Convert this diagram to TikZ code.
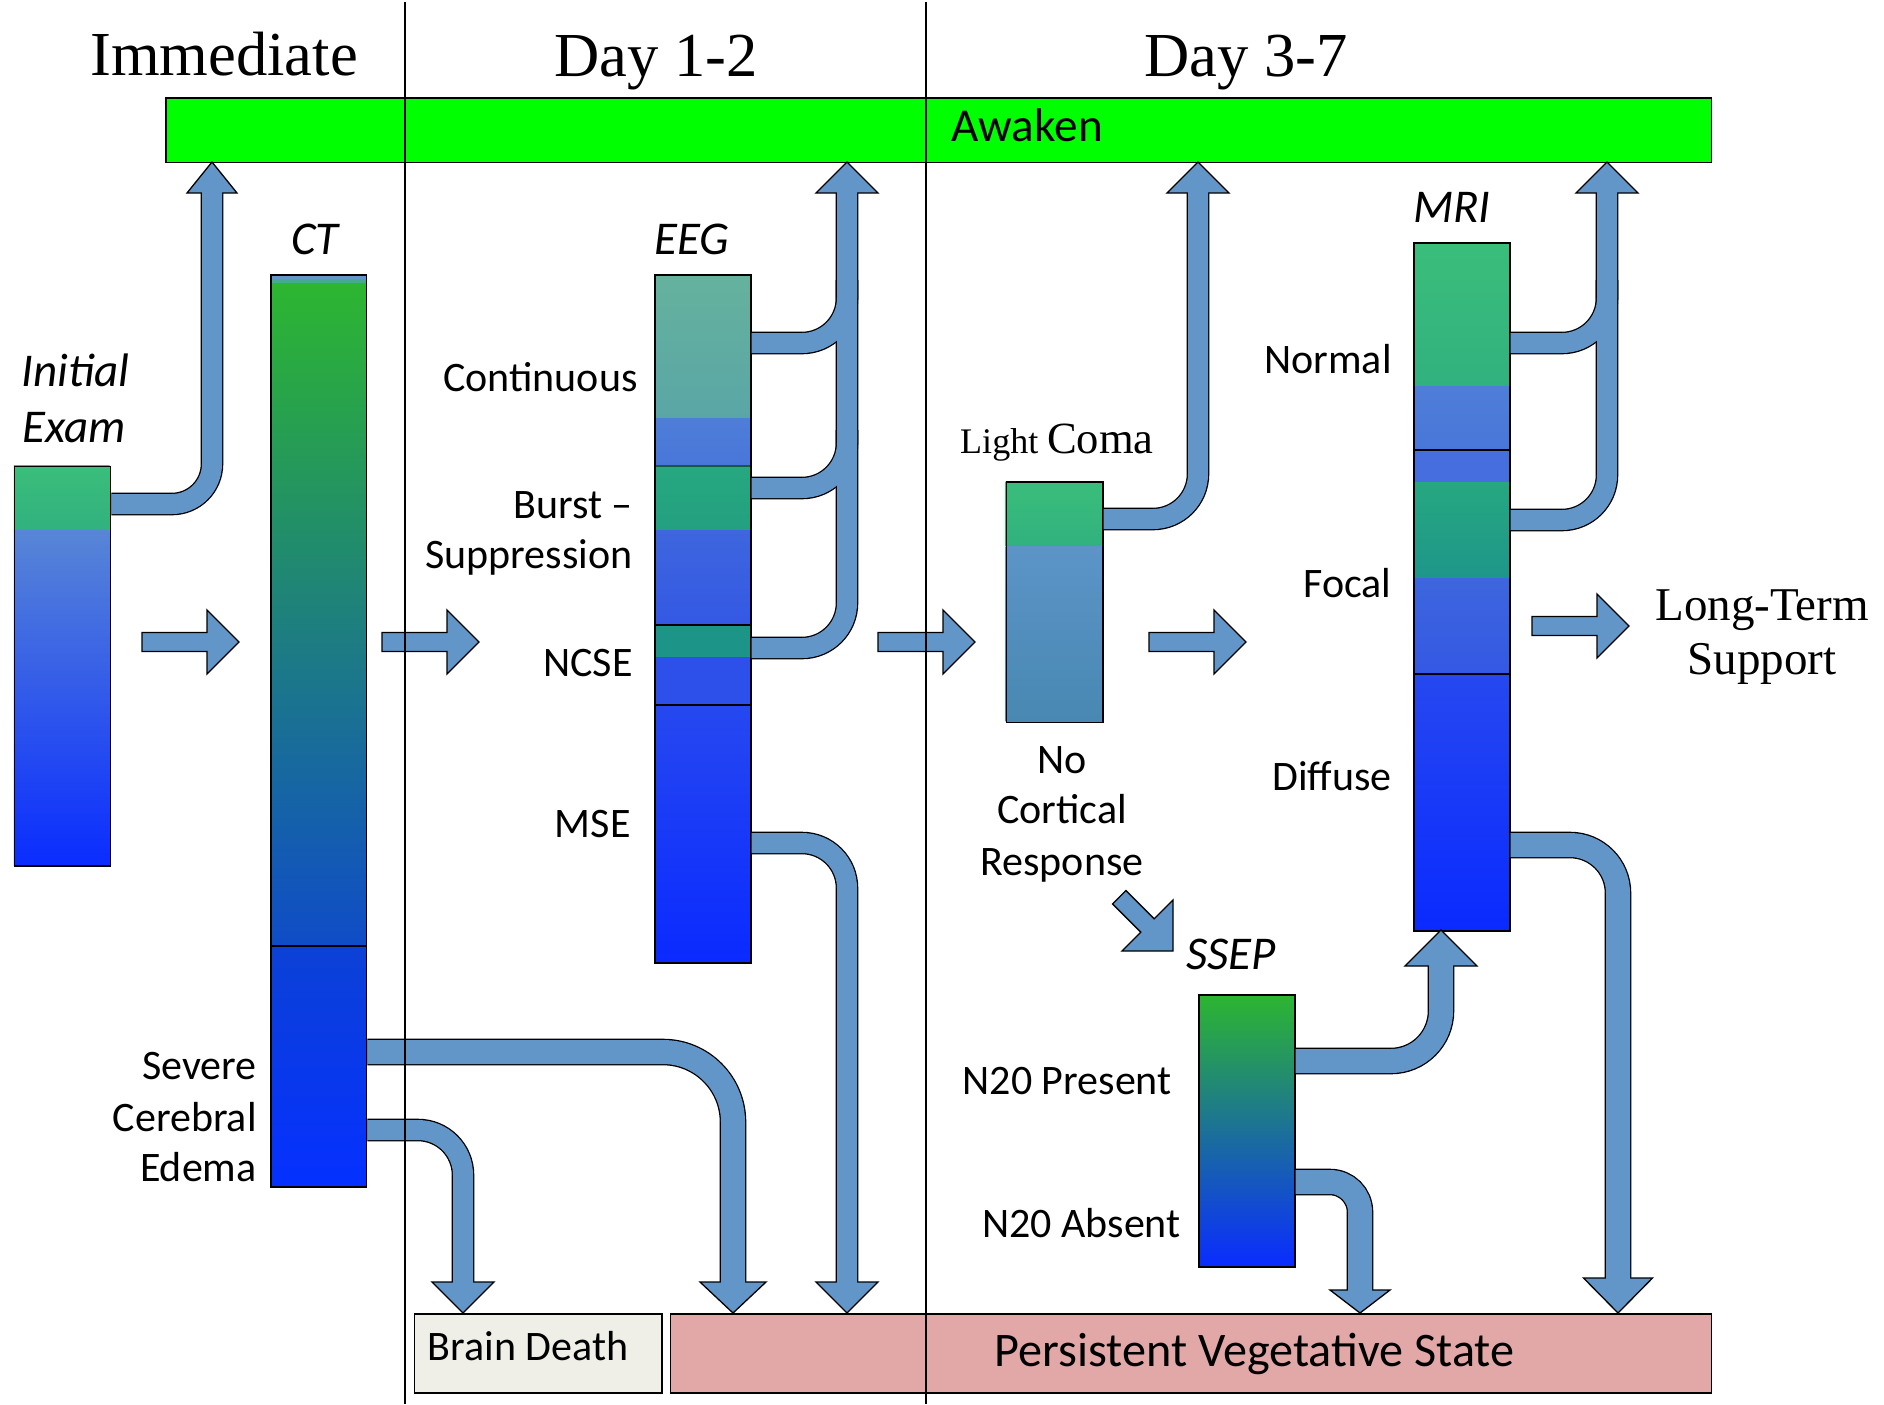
\documentclass[tikz,border=0pt]{standalone}
\usepackage{fontspec}
\setmainfont{Carlito}
\newfontfamily\tnr{Liberation Serif}
\newcommand\fsz[1]{\fontsize{#1}{#1}\selectfont}
\usetikzlibrary{calc}
\definecolor{abl}{RGB}{98,150,201}
\definecolor{awk}{RGB}{0,255,0}
\definecolor{bdeath}{RGB}{239,239,231}
\definecolor{pvsc}{RGB}{226,168,168}
\definecolor{gA}{RGB}{58,190,122}
\definecolor{gB}{RGB}{49,177,127}
\definecolor{bluetop}{RGB}{88,134,214}
\definecolor{bluebot}{RGB}{10,44,255}
\definecolor{ctg}{RGB}{45,182,48}
\definecolor{ctm}{RGB}{28,138,115}
\definecolor{ctb}{RGB}{15,76,200}
\definecolor{ctt}{RGB}{70,170,140}
\definecolor{ct2a}{RGB}{12,65,214}
\definecolor{ct2b}{RGB}{5,48,255}
\definecolor{eA}{RGB}{101,178,158}
\definecolor{eB}{RGB}{90,166,166}
\definecolor{eC}{RGB}{78,126,216}
\definecolor{eD}{RGB}{72,118,218}
\definecolor{eE}{RGB}{38,168,128}
\definecolor{eF}{RGB}{36,160,128}
\definecolor{eG}{RGB}{62,102,222}
\definecolor{eH}{RGB}{52,88,228}
\definecolor{eI}{RGB}{28,148,136}
\definecolor{eJ}{RGB}{46,80,234}
\definecolor{eK}{RGB}{38,72,240}
\definecolor{eL}{RGB}{10,42,255}
\definecolor{mC}{RGB}{70,110,222}
\definecolor{mT}{RGB}{30,150,138}
\definecolor{lcA}{RGB}{92,148,200}
\definecolor{lcB}{RGB}{72,136,178}
\definecolor{sM}{RGB}{24,128,140}
\definecolor{dkg}{RGB}{20,90,60}
\newcommand{\fatright}[2]{\filldraw[ahead] ({#1},{#2-9.5}) -- ({#1+65},{#2-9.5}) -- ({#1+65},{#2-32}) -- ({#1+97},{#2}) -- ({#1+65},{#2+32}) -- ({#1+65},{#2+9.5}) -- ({#1},{#2+9.5}) -- cycle;}
\begin{document}
\begin{tikzpicture}[x=0.5pt,y=-0.5pt,
  box/.style={draw=black,line width=0.8pt,inner sep=0pt,anchor=north west},
  segline/.style={line width=0.6pt},
  txt/.style={inner sep=0pt,font=\fsz{21}},
  itl/.style={inner sep=0pt,font=\fsz{23.5}\itshape},
  hdr/.style={inner sep=0pt,font=\tnr\fsz{31.3}},
  sout/.style={draw=black,line width=11.3pt},
  sfill/.style={draw=abl,line width=10pt},
  bout/.style={draw=black,line width=13.3pt},
  bfill/.style={draw=abl,line width=12pt},
  ahead/.style={fill=abl,draw=black,line width=0.65pt,line join=miter},
]
\useasboundingbox (0,0) rectangle (1884,1404);
\fill[white] (0,0) rectangle (1884,1404);

% ---------- bar fills
% Initial exam
\shade[top color=gA,bottom color=gB] (13.8,465.6) rectangle (109.7,530);
\shade[top color=bluetop,bottom color=bluebot] (13.8,530) rectangle (109.7,865.2);
% CT
\shade[top color=ctg,middle color=ctm,bottom color=ctb] (270.4,282) rectangle (365.7,946);
\fill[abl] (270.4,274) rectangle (365.7,279);
\fill[ctt] (270.4,279) rectangle (365.7,283);
\shade[top color=ct2a,bottom color=ct2b] (270.4,946) rectangle (365.7,1186);
\draw[segline] (270.4,946) -- (365.7,946);
% EEG
\shade[top color=eA,bottom color=eB] (654,274) rectangle (750,418);
\shade[top color=eC,bottom color=eD] (654,418) rectangle (750,466);
\shade[top color=eE,bottom color=eF] (654,466) rectangle (750,530);
\shade[top color=eG,bottom color=eH] (654,530) rectangle (750,625);
\fill[eI] (654,625) rectangle (750,657);
\fill[eJ] (654,657) rectangle (750,705);
\shade[top color=eK,bottom color=eL] (654,705) rectangle (750,962);
\draw[segline,dkg] (654,466) -- (750,466);
\draw[segline] (654,625) -- (750,625);
\draw[segline] (654,705) -- (750,705);
% Light coma
\shade[top color=gA,bottom color=gB] (1005.5,481.3) rectangle (1102,546);
\shade[top color=lcA,bottom color=lcB] (1005.5,546) rectangle (1102,721.5);
% MRI
\shade[top color=gA,bottom color=gB] (1413,242) rectangle (1509,386);
\shade[top color=eC,bottom color=eD] (1413,386) rectangle (1509,450);
\fill[mC] (1413,450) rectangle (1509,482);
\shade[top color=eE,bottom color=mT] (1413,482) rectangle (1509,578);
\shade[top color=eG,bottom color=eH] (1413,578) rectangle (1509,674);
\shade[top color=eK,bottom color=eL] (1413,674) rectangle (1509,930);
\draw[segline] (1413,450) -- (1509,450);
\draw[segline] (1413,674) -- (1509,674);
% SSEP
\shade[top color=ctg,middle color=sM,bottom color=bluebot] (1198,994) rectangle (1294,1266);

% ---------- box nodes
\node[box,fill=awk,minimum width=772.8pt,minimum height=32.15pt] (awaken) at (165,97.3) {};
\node[box,minimum width=48pt,minimum height=199.8pt] (exam) at (13.8,465.6) {};
\node[box,minimum width=47.65pt,minimum height=456pt] (ct) at (270.4,274) {};
\node[box,minimum width=48pt,minimum height=344pt] (eeg) at (654,274) {};
\node[box,minimum width=48.25pt,minimum height=120.1pt] (coma) at (1005.5,481.3) {};
\node[box,minimum width=48pt,minimum height=344pt] (mri) at (1413,242) {};
\node[box,minimum width=48pt,minimum height=136pt] (ssep) at (1198,994) {};
\node[box,fill=bdeath,minimum width=123.8pt,minimum height=39.5pt] (bdeath) at (413.7,1313) {};
\node[box,fill=pvsc,minimum width=520.45pt,minimum height=39.5pt] (pvs) at (669.7,1313) {};

% ---------- connector outlines
\draw[sout,rounded corners=20pt] (exam.east |- 0,504) -- (212,504) -- (212,192);
\draw[sout,rounded corners=22.5pt] (eeg.east |- 0,343) -- (847,343) -- (847,280);
\draw[sout,rounded corners=22.5pt] (eeg.east |- 0,488) -- (847,488) -- (847,430);
\draw[sout,rounded corners=22.5pt] (eeg.east |- 0,648) -- (847,648) -- (847,192);
\draw[sout,rounded corners=22.5pt] (coma.east |- 0,519) -- (1198,519) -- (1198,192);
\draw[sout,rounded corners=22.5pt] (mri.east |- 0,343) -- (1607,343) -- (1607,280);
\draw[sout,rounded corners=22.5pt] (mri.east |- 0,520) -- (1607,520) -- (1607,192);
\draw[sout,rounded corners=22.5pt] (ct.east |- 0,1130) -- (463,1130) -- (463,1283);
\draw[bout,rounded corners=35pt] (ct.east |- 0,1052) -- (733,1052) -- (733,1283);
\draw[sout,rounded corners=22.5pt] (eeg.east |- 0,843) -- (847,843) -- (847,1283);
\draw[bout,rounded corners=25pt] (ssep.east |- 0,1061) -- (1441,1061) -- (1441,965);
\draw[bout,rounded corners=15pt] (ssep.east |- 0,1182) -- (1360,1182) -- (1360,1291);
\draw[bout,rounded corners=24pt] (mri.east |- 0,845) -- (1618,845) -- (1618,1279);

% ---------- heads
\filldraw[ahead] (212,162) -- (237,193) -- (187,193) -- cycle;
\filldraw[ahead] (847,162) -- (878,193) -- (816,193) -- cycle;
\filldraw[ahead] (1198,162) -- (1229,193) -- (1167,193) -- cycle;
\filldraw[ahead] (1607,162) -- (1638,193) -- (1576,193) -- cycle;
\filldraw[ahead] (463,1313) -- (494,1282) -- (432,1282) -- cycle;
\filldraw[ahead] (733,1313) -- (766,1282) -- (700,1282) -- cycle;
\filldraw[ahead] (847,1313) -- (878,1282) -- (816,1282) -- cycle;
\filldraw[ahead] (1360,1313) -- (1390,1290) -- (1330,1290) -- cycle;
\filldraw[ahead] (1618,1313) -- (1652.5,1278) -- (1583.5,1278) -- cycle;
\filldraw[ahead] (1441,930) -- (1477,966) -- (1405,966) -- cycle;

% ---------- connector fills
\draw[sfill,rounded corners=20pt] (exam.east |- 0,504) -- (212,504) -- (212,190);
\draw[sfill,rounded corners=22.5pt] (eeg.east |- 0,343) -- (847,343) -- (847,280);
\draw[sfill,rounded corners=22.5pt] (eeg.east |- 0,488) -- (847,488) -- (847,430);
\draw[sfill,rounded corners=22.5pt] (eeg.east |- 0,648) -- (847,648) -- (847,190);
\draw[sfill,rounded corners=22.5pt] (coma.east |- 0,519) -- (1198,519) -- (1198,190);
\draw[sfill,rounded corners=22.5pt] (mri.east |- 0,343) -- (1607,343) -- (1607,280);
\draw[sfill,rounded corners=22.5pt] (mri.east |- 0,520) -- (1607,520) -- (1607,190);
\draw[sfill,rounded corners=22.5pt] (ct.east |- 0,1130) -- (463,1130) -- (463,1285);
\draw[bfill,rounded corners=35pt] (ct.east |- 0,1052) -- (733,1052) -- (733,1285);
\draw[sfill,rounded corners=22.5pt] (eeg.east |- 0,843) -- (847,843) -- (847,1285);
\draw[bfill,rounded corners=25pt] (ssep.east |- 0,1061) -- (1441,1061) -- (1441,963);
\draw[bfill,rounded corners=15pt] (ssep.east |- 0,1182) -- (1360,1182) -- (1360,1293);
\draw[bfill,rounded corners=24pt] (mri.east |- 0,845) -- (1618,845) -- (1618,1281);

% ---------- free-standing arrows
\fatright{142}{642}
\fatright{382}{642}
\fatright{878}{642}
\fatright{1149}{642}
\fatright{1532}{626}
\filldraw[ahead] (1125.9,890.5) -- (1154.2,918.8) -- (1173,900) -- (1173,951) -- (1122,951) -- (1140.8,932.2) -- (1112.5,903.9) -- cycle;

% ---------- timeline separators
\draw[line width=0.75pt] (405,2) -- (405,1404);
\draw[line width=0.75pt] (926,2) -- (926,1404);

% ---------- texts
\node[hdr,anchor=base] (h1) at (224,75) {Immediate};
\node[hdr,anchor=base] (h2) at (656,76) {Day 1-2};
\node[hdr,anchor=base] (h3) at (1246,76) {Day 3-7};
\node[inner sep=0pt,font=\fsz{23.6},anchor=base west] (awt) at (951,141) {Awaken};
\node[itl,anchor=base west] (l1) at (21,386) {Initial};
\node[itl,anchor=base west] (l2) at (22,442) {Exam};
\node[itl,anchor=base] (l3) at (315,254.5) {CT};
\node[itl,anchor=base] (l4) at (692,254.5) {EEG};
\node[itl,anchor=base] (l5) at (1452,222) {MRI};
\node[itl,anchor=base] (l6) at (1231,969) {SSEP};
\node[txt,anchor=base east] (t1) at (638,391) {Continuous};
\node[txt,anchor=base east] (t2) at (633,518) {Burst –};
\node[txt,anchor=base east] (t3) at (633,568) {Suppression};
\node[txt,anchor=base east] (t4) at (633,676) {NCSE};
\node[txt,anchor=base east] (t5) at (631,837) {MSE};
\node[txt,anchor=base east] (t6) at (257,1079.4) {Severe};
\node[txt,anchor=base east] (t7) at (257,1131) {Cerebral};
\node[txt,anchor=base east] (t8) at (257,1181.4) {Edema};
\node[inner sep=0pt,anchor=base] (t9) at (1057,453) {\tnr\fsz{18}Light \fsz{22.3}Coma};
\node[txt,anchor=base] (t10) at (1062,773) {No};
\node[txt,anchor=base] (t11) at (1062,823.5) {Cortical};
\node[txt,anchor=base] (t12) at (1062,875) {Response};
\node[txt,anchor=base east] (t13) at (1392,373) {Normal};
\node[txt,anchor=base east] (t14) at (1392,597) {Focal};
\node[txt,anchor=base east] (t15) at (1392,790) {Diffuse};
\node[txt,anchor=base east] (t16) at (1172,1094) {N20 Present};
\node[txt,anchor=base east] (t17) at (1181,1237) {N20 Absent};
\node[inner sep=0pt,font=\tnr\fsz{23.5},anchor=base] (t18) at (1762,620.5) {Long-Term};
\node[inner sep=0pt,font=\tnr\fsz{23.5},anchor=base] (t19) at (1762,674) {Support};
\node[txt,anchor=base west] (t20) at (427.5,1360) {Brain Death};
\node[inner sep=0pt,font=\fsz{24.1},anchor=base west] (t21) at (994,1366) {Persistent Vegetative State};
\end{tikzpicture}
\end{document}
